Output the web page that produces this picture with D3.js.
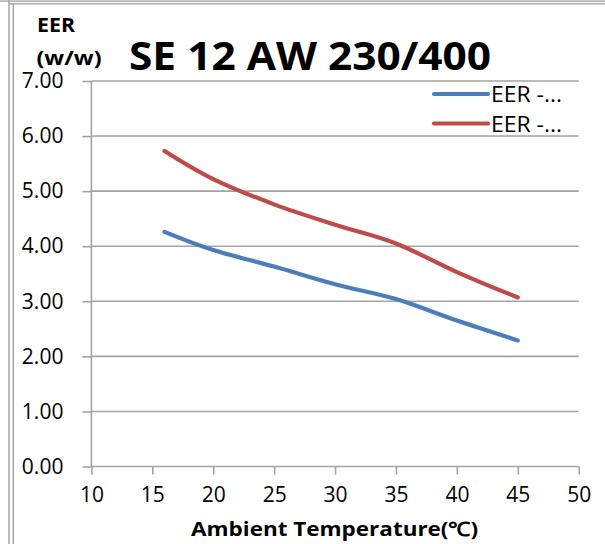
<!DOCTYPE html>
<html>
<head>
<meta charset="utf-8">
<script src="https://cdn.jsdelivr.net/npm/d3@7"></script>
<style>
  html, body { margin: 0; padding: 0; background: #fff; }
  svg { display: block; }
  text { font-family: "Open Sans", "Liberation Sans", sans-serif; fill: #000; }
</style>
</head>
<body>
<svg id="chart" width="605" height="544"></svg>
<script>
// ---- data ----
const temps = [16, 20, 25, 30, 35, 40, 45];
const eerBlue = [4.26, 3.93, 3.63, 3.31, 3.04, 2.65, 2.29];
const eerRed  = [5.73, 5.22, 4.76, 4.39, 4.05, 3.53, 3.07];
const seriesNames = ["EER -...", "EER -..."];
const seriesColors = ["#4a7ebb", "#be4b48"];
const xTicks = [10, 15, 20, 25, 30, 35, 40, 45, 50];
const yTicks = [0, 1, 2, 3, 4, 5, 6, 7];
const title = "SE 12 AW 230/400";
const yTitle1 = "EER";
const yTitle2 = "(w/w)";
const xTitle = "Ambient Temperature(\u2103)";

const svg = d3.select("#chart");
const gray = "#a3a3a3";

// frame (double border lines)
const frame = svg.append("g").attr("stroke", "#9a9a9a").attr("stroke-width", 1.3);
frame.append("line").attr("x1", 0).attr("x2", 605).attr("y1", 1.2).attr("y2", 1.2);
frame.append("line").attr("x1", 9).attr("x2", 605).attr("y1", 3.8).attr("y2", 3.8);
frame.append("line").attr("x1", 9).attr("x2", 9).attr("y1", 0).attr("y2", 544);
frame.append("line").attr("x1", 13.3).attr("x2", 13.3).attr("y1", 3.8).attr("y2", 544);

// scales
const x = d3.scaleLinear().domain([10, 50]).range([91.4, 578.7]);
const y = d3.scaleLinear().domain([0, 7]).range([466.5, 81]);

// gridlines
svg.append("g").selectAll("line").data(yTicks.filter(d => d > 0)).join("line")
  .attr("x1", x(10)).attr("x2", x(50))
  .attr("y1", d => y(d)).attr("y2", d => y(d))
  .attr("stroke", gray).attr("stroke-width", 1.6);

// y axis
const yAxis = svg.append("g").attr("transform", `translate(${x(10)},0)`)
  .call(d3.axisLeft(y).tickValues(yTicks).tickFormat(d3.format(".2f")).tickSize(9).tickPadding(19));
yAxis.select(".domain").attr("stroke", gray).attr("stroke-width", 1.6).attr("d", `M0,${y(7)}V${y(0)}`);
yAxis.selectAll(".tick line").attr("stroke", gray).attr("stroke-width", 1.6);
yAxis.selectAll(".tick text").attr("font-size", 21).attr("font-family", "Open Sans").attr("fill", "#000");

// x axis
const xAxis = svg.append("g").attr("transform", `translate(0,${y(0)})`)
  .call(d3.axisBottom(x).tickValues(xTicks).tickFormat(d3.format("d")).tickSize(8).tickPadding(13));
xAxis.select(".domain").attr("stroke", gray).attr("stroke-width", 1.6).attr("d", `M${x(10)},0H${x(50)}`);
xAxis.selectAll(".tick line").attr("stroke", gray).attr("stroke-width", 1.6);
xAxis.selectAll(".tick text").attr("font-size", 21).attr("font-family", "Open Sans").attr("fill", "#000");

// lines
const line = d3.line().x(d => x(d[0])).y(d => y(d[1])).curve(d3.curveCatmullRom.alpha(0));
[eerBlue, eerRed].forEach((vals, i) => {
  svg.append("path")
    .datum(temps.map((t, j) => [t, vals[j]]))
    .attr("d", line)
    .attr("fill", "none")
    .attr("stroke", seriesColors[i])
    .attr("stroke-width", 4.2)
    .attr("stroke-linecap", "round")
    .attr("stroke-linejoin", "round");
});

// legend
const legendY = [94, 123.5];
seriesNames.forEach((name, i) => {
  svg.append("line")
    .attr("x1", 434).attr("x2", 488).attr("y1", legendY[i]).attr("y2", legendY[i])
    .attr("stroke", seriesColors[i]).attr("stroke-width", 4.2).attr("stroke-linecap", "round");
  svg.append("text").attr("x", 491).attr("y", legendY[i] + 8)
    .attr("font-size", 21).attr("textLength", 71).attr("lengthAdjust", "spacingAndGlyphs")
    .text(name);
});

// titles
svg.append("text").attr("x", 129).attr("y", 69.5)
  .attr("font-size", 39.5).attr("font-weight", "bold")
  .attr("textLength", 362).attr("lengthAdjust", "spacingAndGlyphs")
  .text(title);
svg.append("text").attr("x", 37).attr("y", 32)
  .attr("font-size", 20).attr("font-weight", "bold")
  .attr("textLength", 38).attr("lengthAdjust", "spacingAndGlyphs")
  .text(yTitle1);
svg.append("text").attr("x", 36.5).attr("y", 65)
  .attr("font-size", 20).attr("font-weight", "bold")
  .attr("textLength", 65).attr("lengthAdjust", "spacingAndGlyphs")
  .text(yTitle2);
svg.append("text").attr("x", 191).attr("y", 536)
  .attr("font-size", 19.5).attr("font-weight", "bold")
  .attr("textLength", 287).attr("lengthAdjust", "spacingAndGlyphs")
  .text(xTitle);
</script>
</body>
</html>
